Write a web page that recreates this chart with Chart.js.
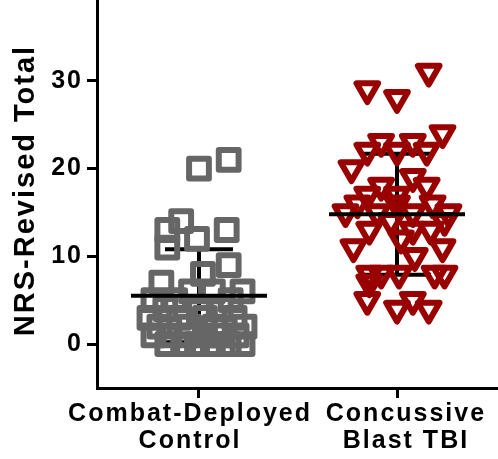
<!DOCTYPE html>
<html>
<head>
<meta charset="utf-8">
<script src="https://cdn.jsdelivr.net/npm/chart.js@4.4.1/dist/chart.umd.min.js"></script>
<style>
  html, body { margin: 0; padding: 0; background: #fff; overflow: hidden; }
  body { width: 498px; height: 459px; position: relative; }
  /* the figure is cropped at the top: shift a taller canvas up */
  #wrap { position: absolute; left: 0; top: -30px; width: 498px; height: 489px; }
</style>
</head>
<body>
<div id="wrap"><canvas id="chart"></canvas></div>
<script>
// --- data ---
// (the spaces nudge the two labels apart the way the original is set)
const categories = [['Combat-Deployed  ', 'Control  '], ['  Concussive', '  Blast TBI']];
const yTicks = [0, 10, 20, 30, 40];

// Combat-Deployed Control (NRS-Revised total) + horizontal scatter offset (category units)
const controlValues = [21, 20, 14, 13, 13, 12, 11, 9, 8, 7,
                       6, 6, 6, 5, 5, 5, 4, 4, 4, 3,
                       3, 3, 3, 2, 2, 2, 2, 1, 1, 1,
                       1, 1, 1, 0, 0, 0, 0, 0, 0];
const controlJitter = [0.15, 0.00, -0.09, -0.16, 0.14, -0.01, -0.16, 0.15, 0.02, -0.19,
                       0.22, -0.04, 0.07, -0.23, -0.12, 0.16, -0.17, 0.00, 0.11, -0.25,
                       -0.10, 0.03, 0.18, -0.20, -0.05, 0.08, 0.23, -0.23, -0.15, -0.06,
                       0.03, 0.11, 0.19, -0.16, -0.08, -0.01, 0.07, 0.15, 0.22];

// Concussive Blast TBI
const tbiValues = [31, 29, 28, 24, 23, 23, 22, 22, 22, 20,
                   19, 18, 18, 17, 17, 16, 16, 16, 15, 15,
                   15, 15, 14, 14, 13, 13, 13, 12, 11, 10,
                   11, 8, 8, 8, 8, 8, 7, 5, 5, 4, 4];
const tbiJitter = [0.16, -0.15, 0.00, 0.23, -0.08, 0.08, -0.15, 0.00, 0.15, -0.23,
                   0.08, -0.08, 0.15, -0.15, 0.00, -0.20, 0.00, 0.18, -0.26, -0.10,
                   0.08, 0.26, -0.03, 0.24, -0.14, 0.08, 0.17, 0.02, -0.22, 0.09,
                   0.23, -0.14, -0.08, 0.01, 0.19, 0.24, -0.14, -0.15, 0.08, 0.00, 0.16];

// mean and SD bars as drawn
const groupMean = [5.5, 14.8];
const groupSD = [5.3, 6.9];

const GRAY = '#666666';
const RED = '#990000';

// --- plugins ---
const textSpacing = {
    id: 'textSpacing',
    beforeLayout(chart) { chart.ctx.letterSpacing = '2px'; },
    beforeDraw(chart) { chart.ctx.letterSpacing = '2px'; }
};

// SD bars go under the points, the mean line over them
const meanSD = {
    id: 'meanSD',
    beforeDatasetsDraw(chart) {
        const { ctx, scales: { x, y } } = chart;
        ctx.save();
        ctx.strokeStyle = '#000';
        ctx.lineWidth = 4;
        groupMean.forEach((m, i) => {
            const cx = x.getPixelForValue(i);
            const top = y.getPixelForValue(m + groupSD[i]);
            const bot = y.getPixelForValue(m - groupSD[i]);
            ctx.beginPath();
            ctx.moveTo(cx, top); ctx.lineTo(cx, bot);
            ctx.moveTo(cx - 34, top); ctx.lineTo(cx + 34, top);
            ctx.moveTo(cx - 34, bot); ctx.lineTo(cx + 34, bot);
            ctx.stroke();
        });
        ctx.restore();
        ctx.save();
        ctx.lineJoin = 'round';
    },
    afterDatasetsDraw(chart) {
        const { ctx, scales: { x, y } } = chart;
        ctx.restore();
        ctx.save();
        ctx.strokeStyle = '#000';
        ctx.lineWidth = 4;
        groupMean.forEach((m, i) => {
            const cx = x.getPixelForValue(i);
            const py = y.getPixelForValue(m);
            ctx.beginPath();
            ctx.moveTo(cx - 68, py); ctx.lineTo(cx + 68, py);
            ctx.stroke();
        });
        ctx.restore();
    }
};

const axisFont = { family: "'Liberation Sans', Arial, sans-serif", size: 25, weight: 'bold', lineHeight: 1.1 };

new Chart(document.getElementById('chart'), {
    type: 'scatter',
    data: {
        datasets: [
            {
                label: 'Combat-Deployed Control',
                data: controlValues.map((v, i) => ({ x: 0 + controlJitter[i], y: v })),
                pointStyle: 'rect',
                pointRadius: 14,
                borderWidth: 6,
                borderColor: GRAY,
                backgroundColor: 'rgba(0,0,0,0)',
            },
            {
                label: 'Concussive Blast TBI',
                data: tbiValues.map((v, i) => ({ x: 1 + tbiJitter[i], y: v })),
                pointStyle: 'triangle',
                rotation: 180,
                pointRadius: 12.5,
                borderWidth: 6,
                borderColor: RED,
                backgroundColor: 'rgba(0,0,0,0)',
            }
        ]
    },
    options: {
        responsive: true,
        maintainAspectRatio: false,
        animation: false,
        events: [],
        layout: { autoPadding: false, padding: { top: 23, left: 0, right: 0, bottom: 0 } },
        plugins: {
            legend: { display: false },
            tooltip: { enabled: false }
        },
        scales: {
            x: {
                type: 'linear',
                min: -0.515,
                max: 1.51,
                afterBuildTicks: s => { s.ticks = categories.map((_, i) => ({ value: i })); },
                afterFit: s => { s.height = 71; s.paddingLeft = 0; s.paddingRight = 0; },
                ticks: {
                    callback: v => categories[v],
                    color: '#000',
                    font: axisFont,
                    padding: 2,
                    maxRotation: 0,
                    autoSkip: false
                },
                grid: { drawOnChartArea: false, drawTicks: true, tickLength: 10, tickWidth: 3, tickColor: '#000' },
                border: { display: true, width: 3, color: '#000' }
            },
            y: {
                min: -5,
                max: 40,
                afterBuildTicks: s => { s.ticks = yTicks.map(v => ({ value: v })); },
                afterFit: s => { s.width = 97; s.paddingTop = 0; s.paddingBottom = 0; },
                ticks: { color: '#000', font: axisFont, padding: 4 },
                grid: { drawOnChartArea: false, drawTicks: true, tickLength: 10, tickWidth: 3, tickColor: '#000' },
                border: { display: true, width: 3, color: '#000' },
                title: {
                    display: true,
                    text: 'NRS-Revised Total',
                    color: '#000',
                    font: { family: "'Liberation Sans', Arial, sans-serif", size: 29, weight: 'bold', lineHeight: 1.2 },
                    padding: { top: 9, bottom: 4 }
                }
            }
        }
    },
    plugins: [textSpacing, meanSD]
});
</script>
</body>
</html>
